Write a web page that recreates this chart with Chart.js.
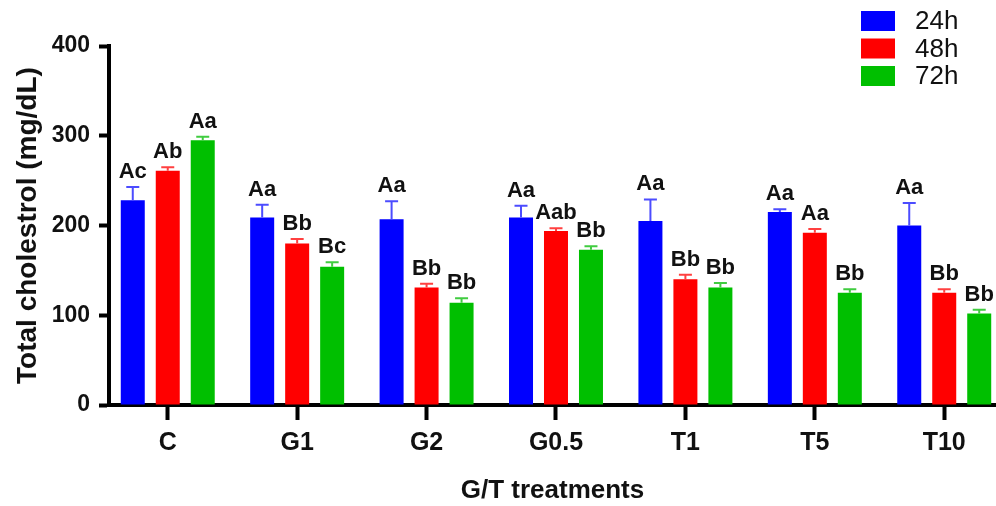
<!DOCTYPE html>
<html>
<head>
<meta charset="utf-8">
<script src="https://cdn.jsdelivr.net/npm/chart.js@4.4.1/dist/chart.umd.min.js"></script>
<style>
html, body { margin: 0; padding: 0; background: #fff; overflow: hidden; }
</style>
</head>
<body>
<canvas id="myChart" width="996" height="506"></canvas>
<script>
var categories = ['C', 'G1', 'G2', 'G0.5', 'T1', 'T5', 'T10'];
var seriesNames = ['24h', '48h', '72h'];

var h24 = [228, 209, 207, 209, 205, 215, 200];
var h48 = [261, 180, 131, 194, 140, 192, 125];
var h72 = [295, 154, 114, 173, 131, 125, 102];

var err24 = [15, 14, 20, 13, 24, 3, 25];
var err48 = [4, 5, 4, 3, 5, 4, 4];
var err72 = [4, 5, 5, 4, 5, 4, 4];

var letters24 = ['Ac', 'Aa', 'Aa', 'Aa', 'Aa', 'Aa', 'Aa'];
var letters48 = ['Ab', 'Bb', 'Bb', 'Aab', 'Bb', 'Aa', 'Bb'];
var letters72 = ['Aa', 'Bc', 'Bb', 'Bb', 'Bb', 'Bb', 'Bb'];

var yTicks = [0, 100, 200, 300, 400];

var FONT = '"Liberation Sans", Arial, sans-serif';

function points(values) {
    return values.map(function (v, i) { return { x: i, y: v }; });
}

// upper error bars + significance letters
var errorBarsAndLetters = {
    id: 'errorBarsAndLetters',
    afterDatasetsDraw: function (chart) {
        var ctx = chart.ctx;
        var yScale = chart.scales.y;
        ctx.save();
        chart.data.datasets.forEach(function (ds, d) {
            var meta = chart.getDatasetMeta(d);
            meta.data.forEach(function (bar, i) {
                var top = yScale.getPixelForValue(ds.data[i].y + ds.errors[i]);
                ctx.strokeStyle = ds.errorColor;
                ctx.lineWidth = 2;
                ctx.beginPath();
                ctx.moveTo(bar.x, bar.y);
                ctx.lineTo(bar.x, top);
                ctx.moveTo(bar.x - 6.5, top);
                ctx.lineTo(bar.x + 6.5, top);
                ctx.stroke();

                ctx.fillStyle = '#111';
                ctx.font = 'bold 22px ' + FONT;
                ctx.textAlign = 'center';
                ctx.textBaseline = 'alphabetic';
                ctx.fillText(ds.letters[i], bar.x, top - 9);
            });
        });
        ctx.restore();
    }
};

var boxLegend = {
    id: 'boxLegend',
    afterDraw: function (chart) {
        var ctx = chart.ctx;
        ctx.save();
        chart.data.datasets.forEach(function (ds, d) {
            var cy = 21 + d * 27.5;
            ctx.fillStyle = ds.backgroundColor;
            ctx.fillRect(861, cy - 10, 34, 20);
            ctx.fillStyle = '#111';
            ctx.font = '26px ' + FONT;
            ctx.textAlign = 'left';
            ctx.textBaseline = 'middle';
            ctx.fillText(ds.label, 915, cy + 1);
        });
        ctx.restore();
    }
};

var ctx = document.getElementById('myChart');
var myChart = new Chart(ctx, {
    type: 'bar',
    data: {
        datasets: [
            {
                label: seriesNames[0],
                data: points(h24),
                errors: err24,
                letters: letters24,
                backgroundColor: '#0000ff',
                errorColor: '#4c4cff',
                borderWidth: 0
            },
            {
                label: seriesNames[1],
                data: points(h48),
                errors: err48,
                letters: letters48,
                backgroundColor: '#ff0000',
                errorColor: '#ff4040',
                borderWidth: 0
            },
            {
                label: seriesNames[2],
                data: points(h72),
                errors: err72,
                letters: letters72,
                backgroundColor: '#00bf00',
                errorColor: '#40cc40',
                borderWidth: 0
            }
        ]
    },
    options: {
        responsive: false,
        animation: false,
        categoryPercentage: 0.811,
        barPercentage: 0.686,
        layout: { padding: { top: 46, right: 0, bottom: 0, left: 0 } },
        plugins: {
            legend: { display: false },
            tooltip: { enabled: false }
        },
        scales: {
            x: {
                type: 'linear',
                min: -0.454,
                max: 6.4,
                offset: false,
                afterBuildTicks: function (scale) {
                    scale.ticks = categories.map(function (c, i) { return { value: i }; });
                },
                afterFit: function (scale) { scale.height = 101; },
                grid: {
                    offset: false,
                    drawOnChartArea: false,
                    drawTicks: true,
                    tickLength: 15,
                    tickWidth: 4,
                    tickColor: '#000'
                },
                border: { display: true, width: 4, color: '#000' },
                ticks: {
                    autoSkip: false,
                    maxRotation: 0,
                    padding: 8,
                    color: '#111',
                    font: { family: FONT, size: 25, weight: 'bold' },
                    callback: function (v) { return categories[v]; }
                },
                title: {
                    display: true,
                    text: 'G/T treatments',
                    color: '#111',
                    font: { family: FONT, size: 26, weight: 'bold' },
                    padding: { top: 0, bottom: 0 }
                }
            },
            y: {
                min: 0,
                max: 400,
                afterBuildTicks: function (scale) {
                    scale.ticks = yTicks.map(function (v) { return { value: v }; });
                },
                afterFit: function (scale) { scale.width = 109; },
                grid: {
                    drawOnChartArea: false,
                    drawTicks: true,
                    tickLength: 10,
                    tickWidth: 4,
                    tickColor: '#000'
                },
                border: { display: true, width: 4, color: '#000' },
                ticks: {
                    padding: 9,
                    color: '#111',
                    font: { family: FONT, size: 23, weight: 'bold' }
                },
                title: {
                    display: true,
                    text: 'Total cholestrol (mg/dL)',
                    color: '#111',
                    font: { family: FONT, size: 28, weight: 'bold' },
                    padding: { top: 11, bottom: 0 }
                }
            }
        }
    },
    plugins: [errorBarsAndLetters, boxLegend]
});
</script>
</body>
</html>
